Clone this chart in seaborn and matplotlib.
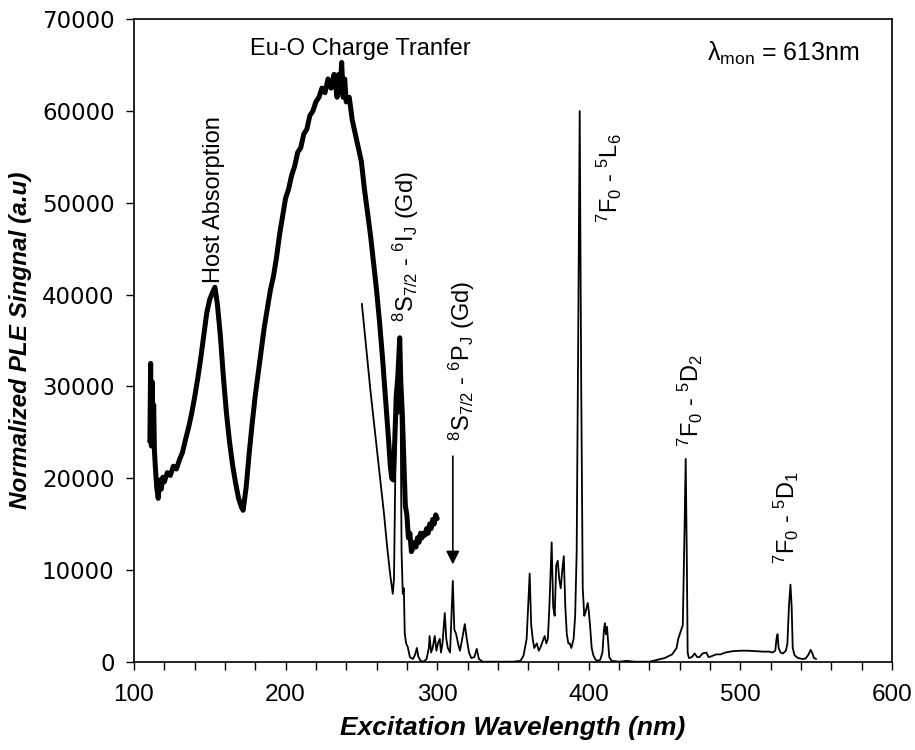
import numpy as np
import pandas as pd
import matplotlib
matplotlib.use("Agg")
import matplotlib.pyplot as plt
import seaborn as sns

# VUV excitation (thick trace), wavelength in nm and signal
vuv_wl = [110.5, 111, 111.5, 112, 112.5, 113, 113.5, 114, 115, 116, 117, 118, 119, 120,
          122, 124, 126, 128, 130, 132, 134, 136, 138, 140, 142, 144, 146, 148, 150, 152,
          153.4, 155, 157, 159, 161, 163, 165, 167, 169, 171, 172, 174, 176, 178, 180,
          182, 184, 186, 188, 190, 192, 194, 196, 198, 200, 202, 204, 206, 208, 210, 212,
          214, 216, 218, 220, 222, 224, 226, 228, 230, 232, 234, 235, 236, 237, 238, 239,
          240, 242, 244, 246, 248, 250, 252, 254, 256, 258, 260, 262, 264, 266, 268, 269,
          270, 271, 272, 273, 274, 275.3, 276, 277, 278, 279, 280, 281, 282, 283, 284,
          285, 286, 287, 288, 289, 290, 291, 292, 293, 294, 295, 296, 297, 298, 299, 300]
vuv_sig = [24000, 32500, 23500, 30500, 24500, 28000, 23000, 21500, 19000, 17800, 19800,
           18800, 20100, 19600, 20600, 20300, 21300, 21000, 22000, 22800, 24200, 25500,
           27000, 28800, 30800, 33000, 35500, 38000, 39500, 40300, 40800, 39000, 35500,
           31000, 27100, 24000, 21500, 19500, 17800, 16800, 16500, 19000, 22700, 26000,
           29000, 31500, 34000, 36500, 38500, 40500, 42000, 44000, 46500, 48500, 50500,
           51500, 53000, 54000, 55500, 56000, 57500, 58000, 59500, 60000, 61000, 61500,
           62500, 62000, 63500, 62500, 64000, 61500, 64000, 62000, 65300, 61500, 63500,
           61000, 61500, 59000, 57500, 56000, 54500, 51500, 49000, 46500, 43500, 40500,
           37000, 33000, 28500, 24000, 21500, 20000, 19800, 24000, 29000, 31000, 35300,
           30500, 27000, 22000, 17000, 16000, 13500, 14000, 12000, 12400, 13000, 12500,
           13500, 13000, 14000, 13500, 14000, 13800, 14500, 14000, 15000, 14500, 15500,
           15000, 16000, 15600]

# UV-visible excitation (thin trace)
uv_wl = [250.3, 253, 256, 259, 262, 265, 267, 269, 270.7, 271.5, 272.5, 273.5, 274.5,
         275.3, 276, 276.5, 277.3, 278, 278.6, 279.5, 280.6, 282, 284, 285.5, 286.6, 287.5,
         289, 291, 293, 294.5, 295, 296, 297, 298.4, 299.5, 300.5, 301.7, 302.5, 303.5,
         305, 306, 307, 308.5, 310.3, 311.3, 312.5, 314, 315, 316.5, 318.2, 319.5, 321,
         322.5, 324.5, 326.1, 327.5, 330, 340, 350, 355, 357, 359, 360, 361, 362, 363, 364,
         365.7, 367, 368, 369.5, 370.9, 372, 373, 374, 375.5, 376.5, 377.5, 378.5, 379.5,
         380.5, 381.5, 382.5, 383.5, 384.5, 385.5, 386.5, 387.4, 388.5, 390, 391, 392, 393,
         394, 395, 396, 397, 398, 399.3, 400, 400.8, 401.9, 403, 404.5, 406, 407.5, 409,
         410, 410.6, 411.3, 412, 412.8, 413.5, 415, 420, 425, 430, 435, 440, 445, 450, 455,
         457.9, 459, 462, 463.2, 463.9, 464.6, 465.2, 466, 468, 469.8, 471.5, 473, 475,
         477.5, 479, 481, 484, 487, 490, 495, 500, 505, 510, 515, 519, 521, 523, 523.8,
         524.5, 525.2, 526.5, 528, 530, 531, 532, 533, 533.8, 534.5, 535.7, 538, 541, 543,
         545, 546.3, 547.5, 548.5, 550]
uv_sig = [39000, 34500, 29500, 25000, 20500, 16000, 12500, 9500, 7400, 9000, 22000, 30000,
          27000, 33000, 25000, 12000, 7400, 8000, 3100, 2000, 1600, 500, 300, 800, 1500,
          600, 100, 0, 300, 1500, 2800, 1000, 1500, 2800, 1200, 2000, 2500, 1000, 2000,
          5300, 2500, 1500, 1000, 8800, 3500, 3000, 1800, 1200, 2500, 4100, 2500, 1000,
          400, 500, 1400, 300, 0, 0, 0, 100, 700, 2500, 6000, 9600, 4000, 2500, 1500, 2000,
          1200, 1500, 2200, 2800, 2000, 2500, 6000, 13000, 6000, 5000, 10500, 11000, 9000,
          8000, 10000, 11500, 6000, 3000, 2000, 2000, 1500, 2500, 5000, 12000, 35000, 60000,
          30000, 8000, 5000, 5500, 6400, 5500, 4000, 1500, 700, 200, 100, 200, 1000, 3500,
          4200, 3000, 3800, 2000, 500, 100, 0, 100, 0, 0, 0, 200, 400, 800, 1500, 2500,
          4000, 15000, 22100, 12000, 1000, 400, 500, 900, 500, 500, 900, 1000, 500, 600,
          800, 800, 1000, 1150, 1200, 1200, 1150, 1100, 1100, 1000, 1200, 2500, 3000, 1500,
          1000, 900, 1200, 2000, 6000, 8400, 6000, 1500, 700, 400, 300, 350, 800, 1300, 900,
          400, 300]

x_ticks = [100, 200, 300, 400, 500, 600]
y_ticks = [0, 10000, 20000, 30000, 40000, 50000, 60000, 70000]

vuv = pd.DataFrame({"wl": vuv_wl, "signal": vuv_sig})
uv = pd.DataFrame({"wl": uv_wl, "signal": uv_sig})

sns.set_theme(style="ticks")
plt.rcParams["font.family"] = ["Liberation Sans", "DejaVu Sans"]
plt.rcParams["mathtext.fontset"] = "custom"
plt.rcParams["mathtext.rm"] = "Liberation Sans"
plt.rcParams["mathtext.it"] = "Liberation Sans:italic"
plt.rcParams["mathtext.bf"] = "Liberation Sans:bold"
for key in ["text.color", "axes.labelcolor", "xtick.color", "ytick.color", "axes.edgecolor"]:
    plt.rcParams[key] = "black"

fig = plt.figure(figsize=(9.15, 7.5), dpi=100)
ax = fig.add_axes([0.1464, 0.1177, 0.8285, 0.8566])

sns.lineplot(data=vuv, x="wl", y="signal", ax=ax, color="black", lw=3.6)
sns.lineplot(data=uv, x="wl", y="signal", ax=ax, color="black", lw=1.3)

ax.set_xlim(100, 600)
ax.set_ylim(0, 70000)
ax.set_xticks(x_ticks)
ax.set_xticks(np.arange(100, 601, 20), minor=True)
ax.set_yticks(y_ticks)
ax.tick_params(axis="both", which="both", direction="out", color="black",
               labelcolor="black", width=1.0)
ax.tick_params(axis="x", which="major", length=6, labelsize=17.5, pad=10)
ax.tick_params(axis="x", which="minor", length=6)
ax.tick_params(axis="y", which="major", length=6, labelsize=16.5, pad=8)
for lab in ax.get_yticklabels():
    lab.set_family("DejaVu Sans")
for sp in ax.spines.values():
    sp.set_color("black")
    sp.set_linewidth(1.2)
    sp.set_visible(True)

ax.set_xlabel("Excitation Wavelength (nm)", fontsize=19, fontweight="bold",
              fontstyle="italic", labelpad=7, color="black")
ax.set_ylabel("Normalized PLE Singnal (a.u)", fontsize=17.5, fontweight="bold",
              fontstyle="italic", labelpad=7, color="black")

# annotations
fs = 17
ax.text(249, 66800, "Eu-O Charge Tranfer", fontsize=fs, ha="center", va="center")
ax.text(578.6, 66300, "λ$_{\\mathrm{mon}}$ = 613nm", fontsize=18, ha="right", va="center")
ax.text(152.5, 41300, "Host Absorption", fontsize=fs, rotation=90, ha="center", va="bottom")
ax.text(279.3, 37000, r"$\mathregular{^8S_{7/2}}$ - $\mathregular{^6I_J}$ (Gd)", fontsize=fs,
        rotation=90, ha="center", va="bottom")
ax.text(316.2, 24100, r"$\mathregular{^8S_{7/2}}$ - $\mathregular{^6P_J}$ (Gd)", fontsize=fs,
        rotation=90, ha="center", va="bottom")
ax.annotate("", xy=(310.3, 10300), xytext=(310.3, 22700),
            arrowprops=dict(arrowstyle="-|>", color="black", lw=1.2, mutation_scale=20))
ax.text(413.8, 47800, r"$\mathregular{^7F_0}$ - $\mathregular{^5L_6}$", fontsize=fs,
        rotation=90, ha="center", va="bottom")
ax.text(467.2, 23400, r"$\mathregular{^7F_0}$ - $\mathregular{^5D_2}$", fontsize=fs,
        rotation=90, ha="center", va="bottom")
ax.text(530.5, 10700, r"$\mathregular{^7F_0}$ - $\mathregular{^5D_1}$", fontsize=fs,
        rotation=90, ha="center", va="bottom")

fig.savefig("out.png", dpi=100)
